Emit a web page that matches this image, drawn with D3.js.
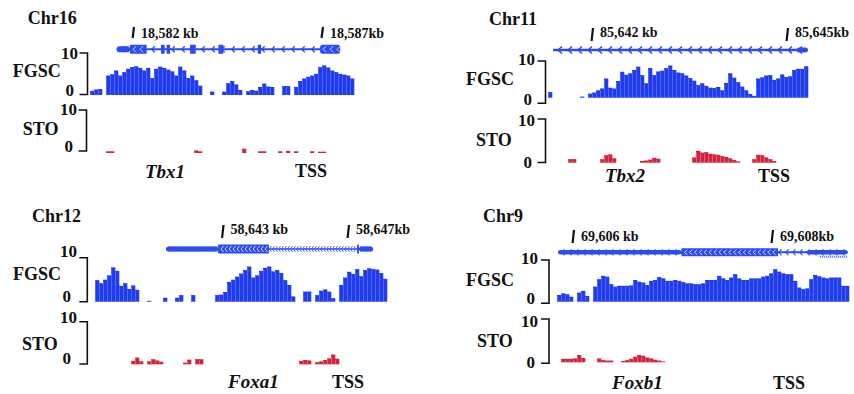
<!DOCTYPE html>
<html>
<head>
<meta charset="utf-8">
<script src="https://cdn.jsdelivr.net/npm/d3@7"></script>
<style>
  body { margin: 0; background: #fff; }
  svg { display: block; }
  text { font-family: "Liberation Serif", "Times New Roman", serif; font-weight: bold; fill: #111; }
</style>
</head>
<body>
<svg id="chart" width="854" height="394"></svg>
<script>
// ---- data (kb windows, ticks, exons, signal bins on a 0-10 scale) ----
const tbx1Window = [18580.862, 18587.847];
const tbx1Ticks = [18582, 18587];
const tbx1TickLabels = ['18,582 kb', '18,587kb'];
const tbx1Exons = [
  [18581.57, 18581.92, 'utr'], [18581.92, 18582.36, 'cds'], [18582.74, 18582.83, 'cds'],
  [18582.89, 18582.98, 'cds'], [18583.51, 18583.66, 'cds'], [18584.26, 18584.39, 'cds'],
  [18585.30, 18585.39, 'cds'], [18586.95, 18587.48, 'cds']
];
const tbx1Fgsc = [1.0, 1.3, 1.4, 0, 4.6, 4.9, 5.8, 4.6, 5.4, 6.2, 6.6, 6.8, 6.4, 5.8, 6.4, 4.0,
  6.2, 6.7, 6.4, 6.0, 5.6, 4.6, 6.7, 5.8, 4.0, 4.6, 3.5, 2.2, 0, 0, 0.8, 0, 0, 0.8, 2.8, 3.3,
  2.5, 1.2, 0, 0.9, 1.2, 1.0, 1.9, 2.7, 2.0, 1.9, 0, 0, 2.1, 2.1, 0, 1.9, 3.3, 3.9, 4.3, 4.6,
  5.0, 6.6, 7.0, 6.5, 5.8, 5.4, 5.0, 4.8, 4.6, 3.9];
const tbx1Sto = [0, 0, 0, 0, 0.4, 0.4, 0, 0, 0, 0, 0, 0, 0, 0, 0, 0, 0, 0, 0, 0, 0, 0, 0, 0, 0, 0,
  0.6, 0.4, 0, 0, 0, 0, 0, 0, 0, 0, 0, 0, 1.0, 0, 0, 0, 0.4, 0.4, 0, 0, 0, 0.4, 0, 0.5, 0, 0.4,
  0, 0, 0, 0.4, 0, 0.3, 0.3, 0, 0, 0, 0, 0, 0, 0];

const tbx2Window = [85641.323, 85645.323];
const tbx2Ticks = [85642, 85645];
const tbx2TickLabels = ['85,642 kb', '85,645kb'];
const tbx2Exons = [[85641.40, 85641.40, 'line'], [85645.15, 85645.32, 'utr']];
const tbx2Fgsc = [1.5, 0, 0, 0, 0, 0, 0, 0, 0.3, 0, 1.1, 1.4, 2.0, 2.5, 5.2, 2.7, 2.5, 4.5, 7.0,
  6.2, 6.6, 7.5, 8.4, 6.1, 3.9, 8.0, 6.1, 7.1, 7.3, 8.0, 8.7, 7.5, 6.8, 6.6, 6.0, 5.3, 4.6, 3.4,
  3.9, 3.2, 2.7, 2.6, 2.9, 2.0, 4.0, 6.6, 5.4, 4.2, 3.0, 2.0, 1.0, 0.5, 5.2, 5.5, 6.0, 6.1, 4.8,
  5.2, 6.3, 5.6, 5.8, 7.5, 7.8, 7.8, 8.5];
const tbx2Sto = [0, 0, 0, 0, 0, 0.8, 0.8, 0, 0, 0, 0, 0, 0, 0.8, 1.7, 1.9, 1.0, 0, 0, 0, 0, 0, 0,
  0.4, 0.5, 0.7, 1.1, 0.9, 0, 0, 0, 0, 0, 0, 0, 0, 1.2, 2.7, 2.3, 2.4, 2.0, 1.9, 1.8, 1.5, 1.3,
  1.0, 0.6, 0.3, 0, 0, 0, 0.8, 1.8, 1.7, 1.2, 0.8, 0.4, 0, 0, 0, 0, 0, 0, 0, 0];

const foxa1Window = [58638.936, 58648.243];
const foxa1Ticks = [58643, 58647];
const foxa1TickLabels = ['58,643 kb', '58,647kb'];
const foxa1Exons = [
  [58641.20, 58642.86, 'utr'], [58642.86, 58644.48, 'cds'],
  [58647.29, 58647.35, 'cds'], [58647.35, 58647.80, 'utr']
];
const foxa1Fgsc = [4.9, 4.2, 5.0, 6.0, 7.8, 7.0, 3.6, 4.2, 2.9, 3.7, 2.7, 0, 0, 0.2, 0, 0, 0, 0.9,
  0, 0, 0.9, 1.5, 0, 0, 1.5, 0, 0, 0, 0, 0, 1.5, 1.6, 2.2, 4.5, 5.0, 5.7, 6.4, 7.2, 8.0, 5.5, 6.0,
  7.0, 7.7, 8.0, 6.9, 7.2, 6.5, 4.9, 3.8, 1.2, 0, 0, 2.3, 2.3, 0, 1.5, 2.5, 2.8, 2.3, 0.8, 0,
  3.8, 5.5, 6.8, 6.3, 7.4, 5.8, 7.2, 7.6, 7.4, 7.3, 6.5, 5.2];
const foxa1Sto = [0, 0, 0, 0, 0, 0, 0, 0, 0, 0.8, 1.6, 0.7, 0, 0.7, 1.2, 0.9, 0.6, 0, 0, 0, 0, 0,
  0.4, 1.1, 0, 1.2, 1.2, 0, 0, 0, 0, 0, 0, 0, 0, 0, 0, 0, 0, 0, 0, 0, 0, 0, 0, 0, 0, 0, 0, 0, 0,
  0.8, 1.0, 0.9, 0, 0.5, 0.7, 1.0, 1.4, 2.3, 1.3, 0, 0, 0, 0, 0, 0, 0, 0, 0, 0, 0, 0];

const foxb1Window = [69605.839, 69608.774];
const foxb1Ticks = [69606, 69608];
const foxb1TickLabels = ['69,606 kb', '69,608kb'];
const foxb1Exons = [
  [69605.85, 69607.09, 'utr'], [69607.09, 69608.06, 'cds'], [69608.36, 69608.76, 'utr']
];
const foxb1Alt = [69608.48, 69608.76];
const foxb1Fgsc = [1.6, 2.0, 1.8, 1.2, 0, 2.2, 2.6, 1.4, 0, 3.6, 5.4, 6.2, 6.0, 4.2, 3.6, 3.8, 3.8,
  3.8, 3.9, 5.2, 4.8, 4.6, 4.0, 5.0, 5.2, 5.9, 5.6, 5.0, 5.0, 5.2, 5.0, 4.7, 4.4, 4.4, 4.2, 4.2,
  4.4, 5.2, 5.2, 5.2, 6.2, 5.6, 5.2, 5.8, 6.6, 5.6, 5.2, 5.2, 5.6, 5.6, 5.6, 6.0, 6.2, 6.8, 7.8,
  7.2, 6.8, 6.6, 6.6, 5.0, 3.4, 3.0, 3.2, 5.4, 6.4, 6.1, 5.8, 5.6, 5.8, 5.8, 5.8, 3.8, 3.8];
const foxb1Sto = [0, 0.8, 0.8, 0.8, 0.9, 1.7, 1.0, 0, 0, 0, 0.9, 0.5, 0.4, 0.4, 0, 0, 0.3, 0.5,
  0.8, 1.3, 1.7, 1.5, 1.1, 0.9, 0.6, 0.4, 0.2, 0, 0, 0, 0, 0, 0, 0, 0, 0, 0, 0, 0, 0, 0, 0, 0, 0,
  0, 0, 0, 0, 0, 0, 0, 0, 0, 0, 0, 0, 0, 0, 0, 0, 0, 0, 0, 0, 0, 0, 0, 0, 0, 0, 0, 0, 0];

// ---- layout ----
const BLUE = '#1f3cf0', GENE = '#2a4cf2', RED = '#d4233d';

const panels = [
  { chr: 'Chr16', gene: 'Tbx1', window: tbx1Window, ticks: tbx1Ticks, tickLabels: tbx1TickLabels,
    exons: tbx1Exons, fgsc: tbx1Fgsc, sto: tbx1Sto,
    x0: 90, x1: 354, chrX: 27.7, chrY: 24.3, kbY: 37.7, kbTick: [27, 38], geneY: 49.3,
    lineW: 2, utrH: 6, cdsH: 9, arrowGap: 10, arrowW: 3, arrowH: 6, arrowSW: 1.3,
    f: { label: [12.7, 77], bx: 87.5, top: 52.7, base: 95, bTop: 53, bBot: 94.5, t10: [78, 58.5], t0: [74, 95.7] },
    s: { label: [22.7, 135], bx: 86.5, top: 110, base: 153, bTop: 110, bBot: 151, t10: [77, 115], t0: [73, 151.7] },
    name: [145, 178], tss: [295, 177] },
  { chr: 'Chr11', gene: 'Tbx2', window: tbx2Window, ticks: tbx2Ticks, tickLabels: tbx2TickLabels,
    exons: tbx2Exons, fgsc: tbx2Fgsc, sto: tbx2Sto,
    x0: 548, x1: 808, chrX: 489, chrY: 25, kbY: 36.7, kbTick: [28, 41], geneY: 50,
    lineW: 2.4, utrH: 5, cdsH: 9, arrowGap: 10, arrowW: 4, arrowH: 7, arrowSW: 1.5,
    f: { label: [466, 85], bx: 545.5, top: 60.7, base: 97.7, bTop: 61, bBot: 103.3, t10: [535, 64.5], t0: [532, 104.5] },
    s: { label: [476, 146], bx: 545.5, top: 118.7, base: 162.7, bTop: 119, bBot: 162.5, t10: [535, 125.5], t0: [532, 168] },
    name: [605, 182], tss: [758, 182] },
  { chr: 'Chr12', gene: 'Foxa1', window: foxa1Window, ticks: foxa1Ticks, tickLabels: foxa1TickLabels,
    exons: foxa1Exons, fgsc: foxa1Fgsc, sto: foxa1Sto,
    x0: 95, x1: 387, chrX: 32, chrY: 221.7, kbY: 234.3, kbTick: [225, 238], geneY: 249,
    lineW: 1.6, utrH: 5, cdsH: 9, arrowGap: 3, arrowW: 2, arrowH: 6, arrowSW: 0.8,
    f: { label: [13, 280], bx: 87.3, top: 257.7, base: 301.7, bTop: 257.7, bBot: 301.7, t10: [77, 256.7], t0: [71, 301.7] },
    s: { label: [22, 350], bx: 87.3, top: 321.7, base: 364.3, bTop: 321.7, bBot: 364, t10: [77, 323.3], t0: [71, 364] },
    name: [228, 388.3], tss: [332, 388] },
  { chr: 'Chr9', gene: 'Foxb1', window: foxb1Window, ticks: foxb1Ticks, tickLabels: foxb1TickLabels,
    exons: foxb1Exons, fgsc: foxb1Fgsc, sto: foxb1Sto, alt: foxb1Alt,
    x0: 557, x1: 849, chrX: 483, chrY: 221.7, kbY: 241, kbTick: [230, 243], geneY: 252.3,
    lineW: 2, utrH: 4.5, cdsH: 8, arrowGap: 7, arrowW: 3, arrowH: 6, arrowSW: 1.1,
    f: { label: [466, 285.7], bx: 549, top: 260, base: 301.7, bTop: 260, bBot: 303.3, t10: [538, 264.3], t0: [535, 304] },
    s: { label: [477, 346.7], bx: 549, top: 319, base: 362.3, bTop: 319, bBot: 363.3, t10: [538, 326.7], t0: [535, 368] },
    name: [612, 389.3], tss: [773, 389] }
];

const svg = d3.select('#chart');

function chevron(ax, yc, w, h) {
  return `M${ax + w},${yc - h / 2}L${ax},${yc}L${ax + w},${yc + h / 2}`;
}

function drawGene(g, x, p) {
  const yc = p.geneY;
  const ls = d3.min(p.exons, d => d[0]);
  const le = d3.max(p.exons, d => d[1]);
  g.append('line')
    .attr('x1', x(ls)).attr('x2', x(le))
    .attr('y1', yc).attr('y2', yc)
    .attr('stroke', GENE).attr('stroke-width', p.lineW);

  // strand chevrons along the intron line
  const marks = d3.range(x(ls) + p.arrowGap / 2, x(le) - 2, p.arrowGap);
  g.append('g').selectAll('path')
    .data(marks)
    .join('path')
    .attr('d', ax => chevron(ax, yc, p.arrowW, p.arrowH))
    .attr('fill', 'none').attr('stroke', GENE).attr('stroke-width', p.arrowSW);

  const blocks = p.exons.filter(e => e[2] !== 'line');
  g.append('g').selectAll('rect')
    .data(blocks)
    .join('rect')
    .attr('x', d => x(d[0]))
    .attr('width', d => Math.max(1.5, x(d[1]) - x(d[0])))
    .attr('y', d => yc - (d[2] === 'cds' ? p.cdsH : p.utrH) / 2)
    .attr('height', d => d[2] === 'cds' ? p.cdsH : p.utrH)
    .attr('rx', (d, i) => (i === 0 || i === blocks.length - 1) ? 2.5 : 0.5)
    .attr('fill', GENE);

  // white chevrons inside coding blocks
  const gap = Math.max(4, p.arrowGap * 0.7);
  blocks.filter(d => d[2] === 'cds' && x(d[1]) - x(d[0]) > 8).forEach(d => {
    const inner = d3.range(x(d[0]) + 3, x(d[1]) - 3, gap);
    g.append('g').selectAll('path')
      .data(inner)
      .join('path')
      .attr('d', ax => chevron(ax, yc, Math.min(3, gap * 0.6), p.cdsH - 3))
      .attr('fill', 'none').attr('stroke', '#dfe4ff').attr('stroke-width', 0.9);
  });

  if (p.alt) {
    g.append('line')
      .attr('x1', x(p.alt[0])).attr('x2', x(p.alt[1]))
      .attr('y1', yc + 4.5).attr('y2', yc + 4.5)
      .attr('stroke', GENE).attr('stroke-width', 2)
      .attr('stroke-dasharray', '1.2,0.8').attr('opacity', 0.7);
  }
}

function drawTrack(g, x, p, values, t, color, stripe, name) {
  const y = d3.scaleLinear().domain([0, 10]).range([t.base, t.top]);
  const step = (p.window[1] - p.window[0]) / values.length;
  const bins = values
    .map((v, i) => ({ v, k0: p.window[0] + i * step, k1: p.window[0] + (i + 1) * step }))
    .filter(d => d.v > 0);

  g.append('g').selectAll('rect')
    .data(bins)
    .join('rect')
    .attr('x', d => x(d.k0))
    .attr('width', d => x(d.k1) - x(d.k0) + 0.3)
    .attr('y', d => y(d.v))
    .attr('height', d => y(0) - y(d.v))
    .attr('fill', color);

  g.append('g').selectAll('line')
    .data(bins.filter(d => y(0) - y(d.v) > 2))
    .join('line')
    .attr('x1', d => x(d.k0) + 0.5).attr('x2', d => x(d.k0) + 0.5)
    .attr('y1', d => y(d.v) + 1).attr('y2', y(0))
    .attr('stroke', stripe).attr('stroke-width', 0.8);

  // bracket axis
  g.append('path')
    .attr('d', `M${t.bx - 8},${t.bTop}H${t.bx}V${t.bBot}H${t.bx - 8}`)
    .attr('fill', 'none').attr('stroke', '#111').attr('stroke-width', 1.6);
  g.append('text').attr('x', t.t10[0]).attr('y', t.t10[1])
    .attr('text-anchor', 'end').attr('font-size', 17).text('10');
  g.append('text').attr('x', t.t0[0]).attr('y', t.t0[1])
    .attr('text-anchor', 'end').attr('font-size', 17).text('0');
  g.append('text').attr('x', t.label[0]).attr('y', t.label[1])
    .attr('font-size', 18).text(name);
}

panels.forEach(p => {
  const g = svg.append('g');
  const x = d3.scaleLinear().domain(p.window).range([p.x0, p.x1]);

  g.append('text').attr('x', p.chrX).attr('y', p.chrY).attr('font-size', 18).text(p.chr);

  p.ticks.forEach((t, i) => {
    g.append('line')
      .attr('x1', x(t) + 1).attr('y1', p.kbTick[0])
      .attr('x2', x(t) - 0.4).attr('y2', p.kbTick[1])
      .attr('stroke', '#111').attr('stroke-width', 2.2);
    g.append('text')
      .attr('x', x(t) + 8).attr('y', p.kbY)
      .attr('font-size', 14).text(p.tickLabels[i]);
  });

  drawGene(g, x, p);
  drawTrack(g, x, p, p.fgsc, p.f, BLUE, '#5f74f6', 'FGSC');
  drawTrack(g, x, p, p.sto, p.s, RED, '#e5707f', 'STO');

  g.append('text').attr('x', p.name[0]).attr('y', p.name[1])
    .attr('font-size', 19).attr('font-style', 'italic').text(p.gene);
  g.append('text').attr('x', p.tss[0]).attr('y', p.tss[1])
    .attr('font-size', 18).text('TSS');
});
</script>
</body>
</html>
